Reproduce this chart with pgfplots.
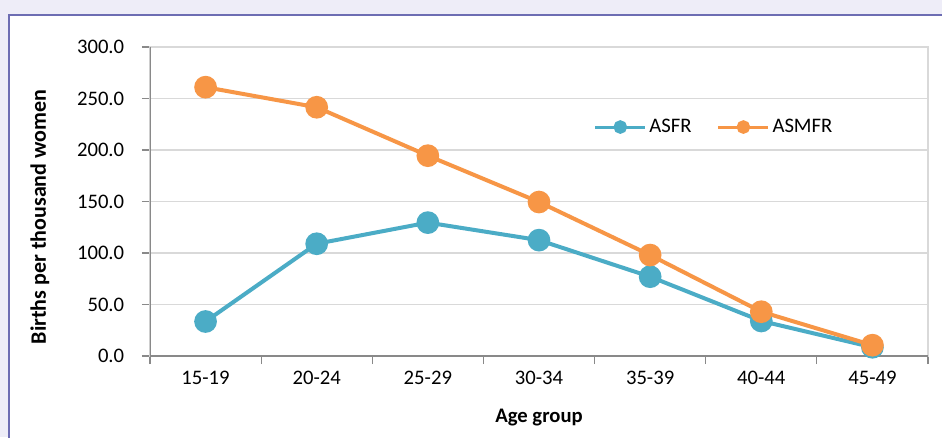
\documentclass[border=0pt]{standalone}
\usepackage{pgfplots}
\pgfplotsset{compat=1.18}
\usepackage{fontspec}
\setmainfont{Carlito}

\definecolor{asfr}{HTML}{4BACC6}
\definecolor{asmfr}{HTML}{F79646}
\definecolor{bglav}{HTML}{EEEDF8}
\definecolor{framec}{HTML}{6D6DB3}
\definecolor{gridc}{HTML}{D9D9D9}
\definecolor{axisc}{HTML}{898989}

\begin{document}
\begin{tikzpicture}
\fontsize{15.5}{18}\selectfont
% page = 942x437 px, 1px = 0.75pt, axis origin at px (150,356)
\useasboundingbox (-112.5pt,-60.75pt) rectangle (594pt,267pt);
\clip (-112.5pt,-60.75pt) rectangle (594pt,267pt);
\fill[bglav] (-112.5pt,-60.75pt) rectangle (594pt,267pt);
\filldraw[fill=white,draw=framec,line width=1.5pt] (-105.75pt,-90pt) rectangle (620pt,255.75pt);

\begin{axis}[
	width=583.5pt,
	height=231.75pt,
	scale only axis,
	at={(0pt,0pt)},
	anchor=south west,
	xmin=-0.5,
	xmax=6.5,
	ymin=0,
	ymax=300,
	ytick={0,50,...,300},
	xtick={-0.5,0.5,...,6.5},
	xticklabels={},
	extra x ticks={0,1,2,3,4,5,6},
	extra x tick labels={15-19,20-24,25-29,30-34,35-39,40-44,45-49},
	extra x tick style={major tick length=0pt,grid=none},
	tick align=outside,
	tick pos=left,
	major tick length=6pt,
	tick style={draw=axisc,line width=0.9pt},
	ymajorgrids,
	grid style={draw=gridc,line width=1.2pt},
	axis line style={draw=gridc,line width=1.2pt},
	/pgf/number format/fixed,
	/pgf/number format/fixed zerofill,
	/pgf/number format/precision=1,
	/pgf/number format/assume math mode=true,
	yticklabel style={xshift=-8pt},
	xticklabel style={yshift=-6pt},
	xlabel={\textbf{Age group}},
	ylabel={\textbf{Births per thousand women}},
	xlabel style={at={(axis description cs:0.5,-0.1985)},anchor=center},
	ylabel style={at={(axis description cs:-0.1414,0.45)},anchor=center,font=\fontsize{16.5}{18}\selectfont},
	legend style={at={(axis description cs:0.565,0.741)},anchor=west,draw=none,fill=none,
		legend columns=2,/tikz/every even column/.append style={column sep=17pt},
		font=\fontsize{15.5}{18}\selectfont},
	legend image code/.code={
		\draw[#1,line width=2.2pt,mark=none] (0pt,0pt) -- (37.5pt,0pt);
		\draw[#1,line width=2.2pt,mark size=4pt,mark=*] plot coordinates {(18.75pt,0pt)};
	},
	]
\addplot[color=asfr,line width=3pt,mark=*,mark size=7pt,mark options={fill=asfr,draw=none}]
table{
0 33.5
1 109
2 129.5
3 112.5
4 77
5 34
6 8.5
};\addlegendentry{ASFR};

\addplot[color=asmfr,line width=3pt,mark=*,mark size=7pt,mark options={fill=asmfr,draw=none}]
table{
0 261
1 241.5
2 194.5
3 149.5
4 98
5 43
6 10.5
};\addlegendentry{ASMFR};

\draw[axisc,line width=1.2pt] (rel axis cs:0,1) -- (rel axis cs:0,0) -- (rel axis cs:1,0);
\end{axis}
\end{tikzpicture}
\end{document}
